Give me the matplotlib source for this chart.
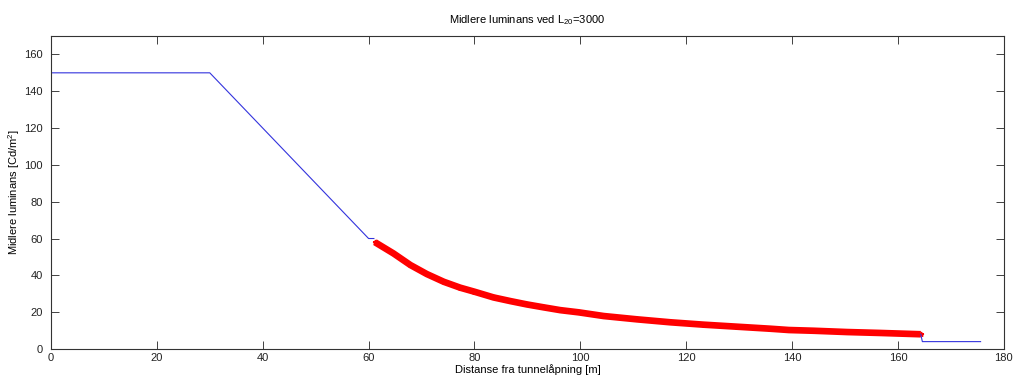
import numpy as np
import matplotlib
matplotlib.use('Agg')
import matplotlib.pyplot as plt

plt.rcParams['font.family'] = ['Liberation Sans', 'DejaVu Sans']
plt.rcParams['mathtext.default'] = 'regular'

# blue part: approach zone and interior zone
x_approach = [0, 30, 60, 61]
y_approach = [150, 150, 60, 60]
x_interior = [164.3, 164.6, 175.6]
y_interior = [8.0, 4.0, 4.0]

# red part: transition zone
x_trans = [61.2, 64.7, 67.9, 71.0, 74.2, 77.3, 80.0, 83.6, 86.8, 89.9, 93.1,
           96.2, 99.7, 104.4, 110.7, 117.0, 123.3, 129.6, 135.9, 139.4,
           144.1, 150.4, 156.7, 164.3]
y_trans = [58.0, 51.9, 45.6, 40.7, 36.5, 33.3, 31.1, 28.0, 26.0, 24.2, 22.6,
           21.1, 19.9, 17.9, 16.1, 14.5, 13.2, 12.1, 11.0, 10.3,
           9.9, 9.2, 8.7, 8.0]

fig = plt.figure(figsize=(10.13, 3.79), dpi=100)
ax = fig.add_axes([0.0503, 0.0792, 0.9407, 0.8258])

ax.plot(x_approach, y_approach, color='#3333dd', lw=0.8)
ax.plot(x_trans, y_trans, color='red', lw=4.8, solid_capstyle='butt')
ax.plot(x_trans, y_trans, 'r*', ms=3.5)
ax.plot(x_interior, y_interior, color='#3333dd', lw=0.8)

ax.set_xlim(0, 180)
ax.set_ylim(0, 170)
ax.set_xticks(np.arange(0, 181, 20))
ax.set_yticks(np.arange(0, 161, 20))
ax.tick_params(direction='in', length=6, width=0.6, top=True, right=True,
               labelsize=8, colors='#222222')
ax.tick_params(axis='y', pad=6)
ax.tick_params(axis='x', pad=3)
for s in ax.spines.values():
    s.set_linewidth(0.8)
    s.set_color('#333333')

ax.set_title('Midlere luminans ved L$_{20}$=3000', fontsize=8, pad=9)
ax.set_xlabel('Distanse fra tunnelåpning [m]', fontsize=8, labelpad=1)
ax.set_ylabel('Midlere luminans [Cd/m$^2$]', fontsize=8)
ax.yaxis.set_label_coords(-0.03, 0.5)

fig.savefig('out.png', dpi=100)
